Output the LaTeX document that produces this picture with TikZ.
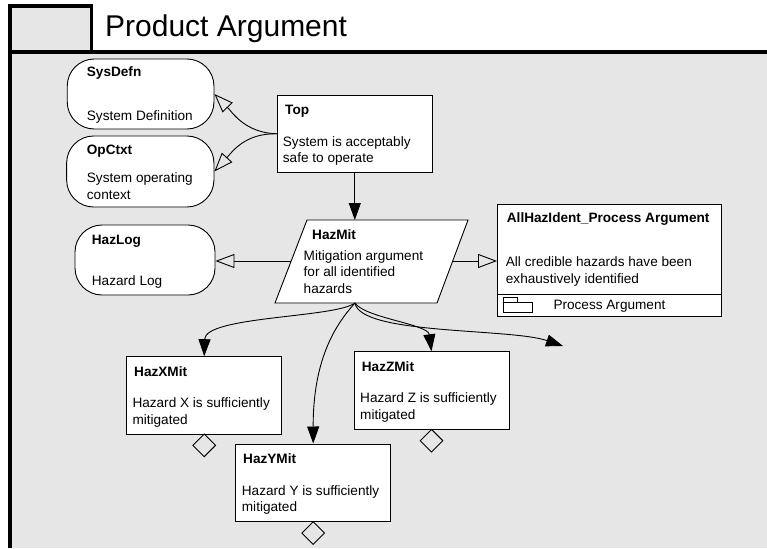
\documentclass[tikz,border=0pt]{standalone}
\usepackage{fontspec}
\setmainfont{Liberation Sans}
\usetikzlibrary{arrows.meta,shapes.geometric,calc}
\definecolor{panelgray}{HTML}{E6E6E6}
\begin{document}
\begin{tikzpicture}[x=1pt,y=-1pt,
  % text nodes are placed by the baseline of their last line
  txt/.style={inner sep=0pt, anchor=base west, align=left,
    font=\fontsize{13.6}{16.6}\selectfont},
  lbl/.style={txt, font=\fontsize{13.6}{16.6}\selectfont\bfseries},
  goalbox/.style={rectangle, draw=black, fill=white, line width=0.9pt, inner sep=0pt},
  ctxbox/.style={goalbox, rounded corners=27pt},
  undev/.style={diamond, draw=black, line width=0.9pt, inner sep=0pt,
    minimum width=23pt, minimum height=23pt, anchor=north},
  supported/.style={-{Triangle[length=17pt,width=12pt]}, line width=0.9pt},
  incontext/.style={-{Triangle[open,length=19pt,width=14pt]}, line width=0.9pt},
  frameline/.style={line width=3.3pt}
]
\useasboundingbox (0,0) rectangle (767,548);
\fill[white] (0,0) rectangle (767,548);

% panel frame and header
\fill[panelgray] (10,52) rectangle (767,548);
\filldraw[fill=panelgray, draw=black, frameline] (10,6) rectangle (91.7,52);
\draw[frameline] (10,548) -- (10,52) -- (767,52);
\node[inner sep=0pt, anchor=base west, font=\fontsize{30}{36}\selectfont]
  (title) at (105,36.7) {Product Argument};

% context nodes
\node[ctxbox, minimum width=146.7pt, minimum height=70pt] (sysdefn) at (140.6,94) {};
\node[lbl] (sysdefn-id) at (86.7,76.3) {SysDefn};
\node[txt] (sysdefn-tx) at (86.7,120.5) {System Definition};

\node[ctxbox, minimum width=147.3pt, minimum height=71pt] (opctxt) at (140.3,171.5) {};
\node[lbl] (opctxt-id) at (86.7,154.5) {OpCtxt};
\node[txt] (opctxt-tx) at (86.7,199.1) {System operating\\context};

\node[ctxbox, minimum width=140pt, minimum height=70pt] (hazlog) at (145,260) {};
\node[lbl] (hazlog-id) at (91.7,244.5) {HazLog};
\node[txt] (hazlog-tx) at (91.7,285) {Hazard Log};

% top goal
\node[goalbox, minimum width=155pt, minimum height=76.7pt] (top) at (354.8,133.8) {};
\node[lbl] (top-id) at (285,114.5) {Top};
\node[txt] (top-tx) at (282.7,162.8) {System is acceptably\\safe to operate};

% strategy (parallelogram)
\filldraw[fill=white, draw=black, line width=0.9pt]
  (275,303) -- (307,220) -- (468,220) -- (437,303) -- cycle;
\coordinate (hazmit-n) at (354.8,220);
\coordinate (hazmit-s) at (355,303);
\coordinate (hazmit-w) at (291,261);
\coordinate (hazmit-e) at (452.5,261);
\node[lbl] (hazmit-id) at (312,239.5) {HazMit};
\node[txt] (hazmit-tx) at (303.5,293.4) {Mitigation argument\\for all identified\\hazards};

% away goal
\node[goalbox, minimum width=223.5pt, minimum height=112pt] (allhaz) at (609.25,260) {};
\draw[line width=0.9pt] ($(allhaz.south west)+(0,-21.7)$) -- ($(allhaz.south east)+(0,-21.7)$);
\node[lbl] (allhaz-id) at (506.7,222.8) {AllHazIdent\_Process Argument};
\node[txt] (allhaz-tx) at (505.7,283.4) {All credible hazards have been\\exhaustively identified};
\draw[line width=0.8pt] (503,297.3) rectangle (517,302);
\draw[line width=0.8pt] (503,302) rectangle (532.3,312.3);
\node[txt] (allhaz-mod) at (553.3,309.5) {Process Argument};

% sub-goals
\node[goalbox, minimum width=155pt, minimum height=77.3pt] (hazx) at (204.2,395.3) {};
\node[lbl] (hazx-id) at (134,376.2) {HazXMit};
\node[txt] (hazx-tx) at (132.3,424.4) {Hazard X is sufficiently\\mitigated};

\node[goalbox, minimum width=155pt, minimum height=77.7pt] (hazy) at (313.2,482.8) {};
\node[lbl] (hazy-id) at (243,463.5) {HazYMit};
\node[txt] (hazy-tx) at (241.7,511.8) {Hazard Y is sufficiently\\mitigated};

\node[goalbox, minimum width=155pt, minimum height=77.6pt] (hazz) at (431.5,390.5) {};
\node[lbl] (hazz-id) at (361.7,371.2) {HazZMit};
\node[txt] (hazz-tx) at (360,419.4) {Hazard Z is sufficiently\\mitigated};

% undeveloped markers
\node[undev] (hazx-u) at ([yshift=1pt]hazx.south) {};
\node[undev] (hazy-u) at ([yshift=1pt]hazy.south) {};
\node[undev] (hazz-u) at ([yshift=1pt]hazz.south) {};

% in-context-of links
\draw[incontext] (top.west) .. controls (245,133) and (232,112) .. (sysdefn.east);
\draw[incontext] (top.west) .. controls (245,133) and (232,152) .. (opctxt.east);
\draw[incontext] (hazmit-w) -- (hazmit-w -| hazlog.east);
\draw[incontext] (hazmit-e) -- (hazmit-e -| allhaz.west);

% supported-by links
\coordinate (loose) at (563,346);
\draw[supported] (top.south) -- (hazmit-n);
\draw[supported] (hazmit-s) .. controls (335,318) and (205,316) .. (hazx.north);
\draw[supported] (hazmit-s) .. controls (335,325) and (313,360) .. (hazy.north);
\draw[supported] (hazmit-s) .. controls (365,318) and (428,324) .. (hazz.north);
\draw[supported] (hazmit-s) .. controls (360,335) and (510,328) .. (loose);
\end{tikzpicture}
\end{document}
